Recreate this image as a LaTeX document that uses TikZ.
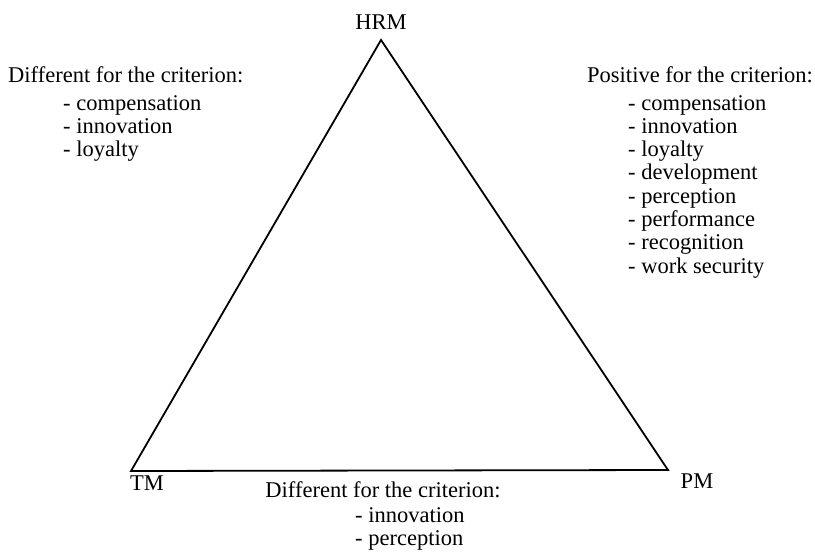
\documentclass[tikz,border=0pt]{standalone}
\usepackage{fontspec}
\setmainfont{Liberation Serif}
% one criterion per line, baseline on the first line
\newcommand\critlist[1]{\begin{tabular}[t]{@{}l@{}}#1\end{tabular}}
\begin{document}
\begin{tikzpicture}[
    x=1pt, y=-1pt,
    font=\fontsize{22.5}{23.3}\selectfont,
    side/.style={line width=1.8pt},
    vertex/.style={inner sep=0pt},
    criteria/.style={inner sep=0pt,anchor=base west}
]
\useasboundingbox (0,0) rectangle (815,554);

% the three approaches
\coordinate (top) at (381,40);
\coordinate (left) at (131,471);
\coordinate (right) at (668,470);
\draw[side] (top)--(left)--(right)--cycle;

\node[vertex] (hrm) at (381,22) {HRM};
\node[vertex] (tm) at (147,483) {TM};
\node[vertex] (pm) at (697,481) {PM};

% HRM vs TM
\node[criteria] (hrmtmhead) at (8,82) {Different for the criterion:};
\node[criteria] (hrmtm) at (63,110) {\critlist{- compensation\\- innovation\\- loyalty}};

% HRM vs PM
\node[criteria,anchor=base east] (hrmpmhead) at (813,82) {Positive for the criterion:};
\node[criteria] (hrmpm) at (628,110) {\critlist{- compensation\\- innovation\\- loyalty\\- development\\- perception\\- performance\\- recognition\\- work security}};

% TM vs PM
\node[criteria,anchor=base] (tmpmhead) at (383,497) {Different for the criterion:};
\node[criteria] (tmpm) at (355,522) {\critlist{- innovation\\- perception}};
\end{tikzpicture}
\end{document}
